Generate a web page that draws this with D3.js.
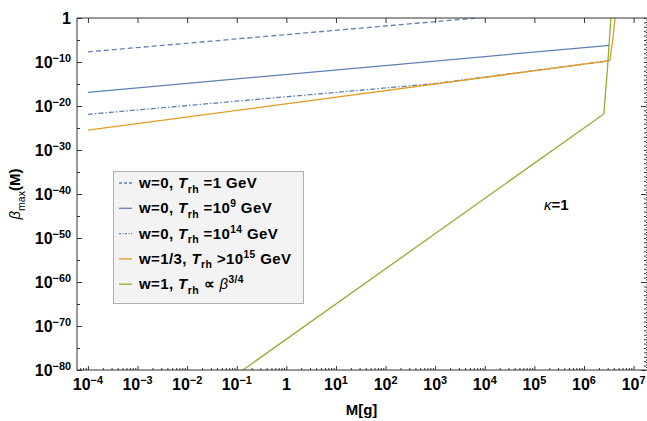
<!DOCTYPE html>
<html>
<head>
<meta charset="utf-8">
<script src="https://cdn.jsdelivr.net/npm/d3@7"></script>
<style>
  body { margin: 0; background: #fff; }
  svg { font-family: "Liberation Sans", Arial, sans-serif; }
</style>
</head>
<body>
<div id="chart"></div>
<script>
// data: [log10 M (g), log10 beta_max]
var dashedPts  = [[-4, -7.7], [4.2, 0.35]];
var solidPts   = [[-4, -16.9], [6.52, -6.2]];
var dashdotPts = [[-4, -21.9], [3.0, -14.9], [6.52, -9.7]];
var orangePts  = [[-4, -25.5], [6.52, -9.7], [6.58, -5], [6.63, 0.5]];
var greenPts   = [[-0.875, -80], [6.40, -21.8], [6.47, -12], [6.545, 0.5]];

var xTickExps = [-4, -3, -2, -1, 0, 1, 2, 3, 4, 5, 6, 7];
var yTickExps = [0, -10, -20, -30, -40, -50, -60, -70, -80];

var legendRows = [
  [["w=0, ", ""], ["T", "i"], ["rh", "sub"], [" =1 GeV", ""]],
  [["w=0, ", ""], ["T", "i"], ["rh", "sub"], [" =10", ""], ["9", "sup"], [" GeV", ""]],
  [["w=0, ", ""], ["T", "i"], ["rh", "sub"], [" =10", ""], ["14", "sup"], [" GeV", ""]],
  [["w=1/3, ", ""], ["T", "i"], ["rh", "sub"], [" >10", ""], ["15", "sup"], [" GeV", ""]],
  [["w=1, ", ""], ["T", "i"], ["rh", "sub"], [" \u221D ", ""], ["\u03B2", "in"], ["3/4", "sup"]]
];

var blue = "#5e81b5", orange = "#e19c24", green = "#8fb032";
var series = [
  { pts: dashedPts, color: blue, dash: "5,3" },
  { pts: solidPts, color: blue, dash: null },
  { pts: dashdotPts, color: blue, dash: "5,2,1.5,2" },
  { pts: orangePts, color: orange, dash: null },
  { pts: greenPts, color: green, dash: null }
];

var W = 647, H = 421;
var mL = 77, mR = 646, mT = 18, mB = 370;

var svg = d3.select("#chart").append("svg")
  .attr("width", W).attr("height", H);

var x = d3.scaleLog().domain([Math.pow(10, -4.22), Math.pow(10, 7.25)]).range([mL, mR]);
var y = d3.scaleLog().domain([1e-80, 1]).range([mB, mT]);

// rich text helper: segments of [text, style]
function richText(sel, segs, size) {
  var shift = 0;
  segs.forEach(function(s) {
    var t = sel.append("tspan").text(s[0]);
    var target = 0;
    if (s[1] === "sub") { target = size * 0.3; t.attr("font-size", size * 0.7); }
    if (s[1] === "sup") { target = -size * 0.4; t.attr("font-size", size * 0.68); }
    if (s[1] === "i") t.attr("font-style", "italic");
    if (s[1] === "in") t.attr("font-style", "italic").attr("font-weight", "normal");
    if (target !== shift) { t.attr("dy", target - shift); shift = target; }
  });
}

svg.append("clipPath").attr("id", "clip")
  .append("rect").attr("x", mL).attr("y", mT)
  .attr("width", mR - mL).attr("height", mB - mT);

var line = d3.line()
  .x(function(d) { return x(Math.pow(10, d[0])); })
  .y(function(d) { return y(Math.pow(10, d[1])); });

svg.append("g").attr("clip-path", "url(#clip)")
  .selectAll("path").data(series).enter()
  .append("path")
  .attr("d", function(d) { return line(d.pts); })
  .attr("fill", "none")
  .attr("stroke", function(d) { return d.color; })
  .attr("stroke-width", 1.3)
  .attr("stroke-dasharray", function(d) { return d.dash; });

// frame
var frame = svg.append("g").attr("stroke", "#333").attr("stroke-width", 1).attr("fill", "none");
frame.append("path").attr("d", "M" + mL + "," + mT + "V" + mB + "H" + mR);
frame.append("path").attr("d", "M" + mL + "," + mT + "H" + W);

function noDomain(g) { g.select(".domain").remove(); }
var pow10 = function(e) { return Math.pow(10, e); };

// bottom ticks: majors + log minors
var minors = [];
for (var e = -5; e <= 7; e++) for (var k = 2; k <= 9; k++) {
  var v = k * Math.pow(10, e);
  if (v > x.domain()[0] && v < x.domain()[1]) minors.push(v);
}
svg.append("g").attr("transform", "translate(0," + mB + ")")
  .call(d3.axisBottom(x).tickValues(xTickExps.map(pow10)).tickSize(-4).tickFormat(""))
  .call(noDomain);
svg.append("g").attr("transform", "translate(0," + mB + ")")
  .call(d3.axisBottom(x).tickValues(minors).tickSize(-2).tickFormat(""))
  .call(noDomain);

// top ticks
svg.append("g").attr("transform", "translate(0," + mT + ")")
  .call(d3.axisTop(x).tickValues(xTickExps.map(pow10)).tickSize(-5).tickFormat(""))
  .call(noDomain);

// left ticks: every 10 decades, medium at 5
svg.append("g").attr("transform", "translate(" + mL + ",0)")
  .call(d3.axisLeft(y).tickValues(yTickExps.map(pow10)).tickSize(-5).tickFormat(""))
  .call(noDomain);
svg.append("g").attr("transform", "translate(" + mL + ",0)")
  .call(d3.axisLeft(y).tickValues(d3.range(-75, 0, 10).map(pow10)).tickSize(-3).tickFormat(""))
  .call(noDomain);

// right side: dense decade ticks
svg.append("g").attr("transform", "translate(" + mR + ",0)")
  .call(d3.axisRight(y).tickValues(d3.range(-80, 1, 1).map(pow10)).tickSize(-2).tickFormat(""))
  .call(function(g) { g.select(".domain").attr("stroke", "#333").attr("stroke-dasharray", "1,1.5"); });
svg.append("g").attr("transform", "translate(" + mR + ",0)")
  .call(d3.axisRight(y).tickValues([-20, -40, -60, -80].map(pow10)).tickSize(-5).tickFormat(""))
  .call(noDomain);

svg.selectAll(".tick line").attr("stroke", "#333");

// tick labels
var fs = 16;
xTickExps.forEach(function(e) {
  var t = svg.append("text")
    .attr("x", x(pow10(e))).attr("y", 390)
    .attr("text-anchor", "middle").attr("font-weight", "bold").attr("font-size", fs);
  if (e === 0) t.text("1");
  else richText(t, [["10", ""], [String(e).replace("-", "\u2212"), "sup"]], fs);
});
yTickExps.forEach(function(e) {
  var t = svg.append("text")
    .attr("x", 71).attr("y", y(pow10(e)) + 6)
    .attr("text-anchor", "end").attr("font-weight", "bold").attr("font-size", fs);
  if (e === 0) t.text("1");
  else richText(t, [["10", ""], [String(e).replace("-", "\u2212"), "sup"]], fs);
});

// axis titles
svg.append("text").attr("x", (mL + mR) / 2).attr("y", 415)
  .attr("text-anchor", "middle").attr("font-weight", "bold").attr("font-size", 15)
  .text("M[g]");

var yt = svg.append("text")
  .attr("transform", "translate(20,194) rotate(-90)")
  .attr("text-anchor", "middle").attr("font-size", 15);
richText(yt, [["\u03B2", "i"], ["max", "sub"], ["(M)", ""]], 15);
yt.selectAll("tspan").filter(function(d, i) { return i === 2; }).attr("font-weight", "bold");

// kappa label
var kt = svg.append("text").attr("x", 544).attr("y", 210).attr("font-size", 15);
kt.append("tspan").attr("font-style", "italic").text("\u03BA");
kt.append("tspan").attr("font-weight", "bold").text("=1");

// legend
var lg = svg.append("g");
lg.append("rect").attr("x", 113.5).attr("y", 171.5).attr("width", 190).attr("height", 132)
  .attr("fill", "#f3f3f3").attr("stroke", "#b0b0b0");
series.forEach(function(s, i) {
  var cy = 183 + i * 25.3;
  lg.append("line").attr("x1", 119).attr("x2", 132).attr("y1", cy).attr("y2", cy)
    .attr("stroke", s.color).attr("stroke-width", 1.3)
    .attr("stroke-dasharray", s.dash ? (i === 0 ? "3,2" : "2,1.5,1,1.5") : null);
  var t = lg.append("text").attr("x", 139).attr("y", cy + 5)
    .attr("font-weight", "bold").attr("font-size", 15).attr("letter-spacing", 0.4);
  richText(t, legendRows[i], 15);
});
</script>
</body>
</html>
